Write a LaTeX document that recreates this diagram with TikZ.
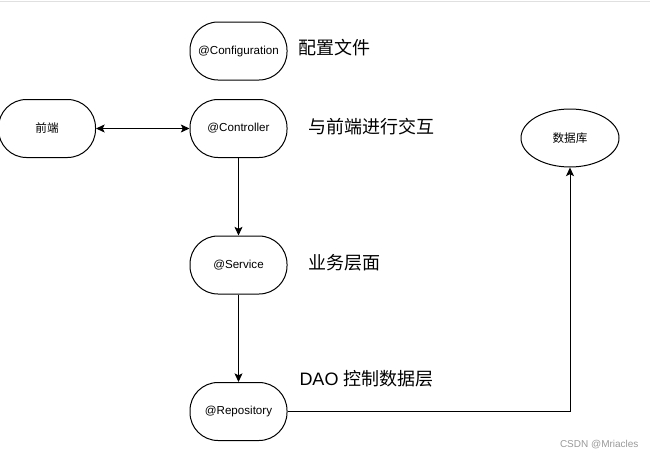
\documentclass[tikz,border=0pt]{standalone}
\usepackage{fontspec}
\setmainfont{Liberation Sans}
\newfontfamily\cjk{Noto Sans CJK SC}
\usetikzlibrary{positioning, shapes.geometric, arrows.meta}

\begin{document}
\begin{tikzpicture}[x = 0.75pt, y = -0.75pt, line width = 0.75pt,
        >={Stealth[length = 6.5pt, width = 6pt, inset = 1.5pt]},
        layer/.style = {shape = rectangle, draw = black, rounded corners = 21pt, minimum width = 72.75pt, minimum height = 43.5pt, inner sep = 0pt, font = \fontsize{8.7}{10}\selectfont},
        note/.style = {anchor = west, inner sep = 0pt, font = \fontsize{13.5}{16}\selectfont\cjk}]
            \useasboundingbox (0, 0) rectangle (650, 457);
            \draw [black!12] (0, 1.5) -- (650, 1.5);

            \node [layer] (configuration) at (238.5, 51) {@Configuration};
            \node [layer] (frontend) at (47, 128.5) {\cjk 前端};
            \node [layer] (controller) at (238.5, 128.5) {@Controller};
            \node [layer] (service) at (238.5, 265) {@Service};
            \node [layer] (repository) at (238.5, 411.5) {@Repository};
            \node [shape = ellipse, draw = black, minimum width = 73.5pt, minimum height = 43.5pt, inner sep = 0pt, font = \fontsize{8.7}{10}\selectfont\cjk] (database) at (570, 138) {数据库};

            \node [note] (configtext) at (298, 48) {配置文件};
            \node [note] (controllertext) at (308, 127) {与前端进行交互};
            \node [note] (servicetext) at (308, 263) {业务层面};
            \node [note, font = \fontsize{13.5}{16}\selectfont] (repositorytext) at (299, 379) {DAO {\cjk 控制数据层}};
            \node [anchor = east, inner sep = 0pt, text = black!40, font = \fontsize{7.5}{9}\selectfont] (mark) at (639, 445) {CSDN @Mriacles};

            \draw [<->] (frontend) -- (controller);
            \draw [->] (controller) -- (service);
            \draw [->] (service) -- (repository);
            \draw [->] (repository) -| (database);
        \end{tikzpicture}
\end{document}
